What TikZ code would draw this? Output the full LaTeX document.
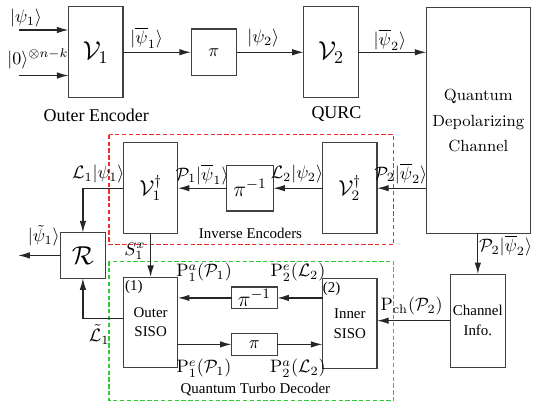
\documentclass[tikz,border=0pt]{standalone}
\usepackage{amsmath,amssymb}
\usepackage{fontspec}
\newfontfamily\tmsfont{Liberation Serif}
\usetikzlibrary{arrows.meta}
\definecolor{framered}{RGB}{238,45,45}
\definecolor{framegreen}{RGB}{45,205,45}

\begin{document}
\begin{tikzpicture}[
  x=0.55pt,y=-0.55pt,
  >={Latex[length=6.5pt,width=3.6pt]},
  blk/.style 2 args={draw=black!75,line width=.7pt,inner sep=0pt,outer sep=0pt,
    minimum width=#1*0.55pt,minimum height=#2*0.55pt},
  flow/.style={->,black!85,line width=.7pt},
  bigcap/.style={font=\tmsfont\fontsize{10}{12}\selectfont},
  smallcap/.style={font=\tmsfont\fontsize{8.3}{11}\selectfont,align=center},
  frame/.style={line width=.7pt,dash pattern=on 2.4pt off 1.4pt}
]
% Bounding box.
\draw[white] (0,0) rectangle (538,409);

% Dashed frames round the inverse encoders and the turbo decoder.
\draw[frame,framered] (110,136) rectangle (398,247);
\draw[frame,framegreen] (110,264) rectangle (398,405);

% Encoder chain and channel.
\node[blk={55}{92}] (enc1) at (96.5,52.5) {\Large$\mathcal{V}_1$};
\node[blk={46}{47}] (perm) at (216,52.5) {$\pi$};
\node[blk={55}{92}] (enc2) at (334.5,52.5) {\Large$\mathcal{V}_2$};
\node[blk={105}{229},align=center,font=\fontsize{9}{14.3}\selectfont] (chan) at (483.5,121.5)
  {Quantum\\Depolarizing\\Channel};
\coordinate (inone) at (19,30);
\coordinate (intwo) at (19,76);
\draw[flow] (inone) -- (inone -| enc1.west);
\draw[flow] (intwo) -- (intwo -| enc1.west);
\draw[flow] (enc1.east) -- (perm.west);
\draw[flow] (perm.east) -- (enc2.west);
\draw[flow] (enc2.east) -- (enc2.east -| chan.west);
\node (kone) at (26,18) {$|\psi_1\rangle$};
\node (kzero) at (38,59) {$|0\rangle^{\otimes n-k}$};
\node (kbarone) at (148,38) {$|\overline{\psi}_1\rangle$};
\node (ktwo) at (266,38) {$|\psi_2\rangle$};
\node (kbartwo) at (394,40) {$|\overline{\psi}_2\rangle$};
\node[bigcap] (tenc) at (97,116) {Outer Encoder};
\node[bigcap] (tqurc) at (340,115) {QURC};

% Inverse encoders and recovery.
\node[blk={55}{92}] (inv1) at (152,190) {\large$\mathcal{V}_1^\dagger$};
\node[blk={47}{46}] (iperm) at (252.5,190) {\large$\pi^{-1}$};
\node[blk={55}{92}] (inv2) at (353.5,190) {\large$\mathcal{V}_2^\dagger$};
\node[blk={45}{46}] (rec) at (83.5,258) {\Large$\mathcal{R}$};
\coordinate (recout) at (18,258);
\draw[flow] (inv2.east -| chan.west) -- (inv2.east);
\draw[flow] (inv2.west) -- (iperm.east);
\draw[flow] (iperm.west) -- (inv1.east);
\draw[flow] (inv1.west) -| (rec.north);
\draw[flow] (rec.west) -- (recout);
\node (kchout) at (405,175) {$\mathcal{P}_2|\overline{\psi}_2\rangle$};
\node (kltwo) at (300,176) {$\mathcal{L}_2|\psi_2\rangle$};
\node (kpone) at (204,176) {$\mathcal{P}_1|\overline{\psi}_1\rangle$};
\node (klone) at (99,176) {$\mathcal{L}_1|\psi_1\rangle$};
\node (kout) at (44,238) {$|\tilde{\psi}_1\rangle$};
\node[smallcap] (tinv) at (253,236) {Inverse Encoders};

% Turbo decoder.
\node[blk={55}{91},smallcap] (outer) at (152,325.5) {Outer\\SISO};
\node[blk={55}{91},smallcap] (inner) at (353.5,327) {Inner\\SISO};
\node[blk={46}{22}] (dinv) at (257,301) {\large$\pi^{-1}$};
\node[blk={46}{22}] (dperm) at (257,348) {$\pi$};
\node[blk={56}{94},smallcap] (info) at (483,324) {Channel\\Info.};
\draw[flow] (inv1.south) -- (outer.north);
\draw[flow] ([yshift=1.9pt]outer.west) -| (rec.south);
\draw[flow] (dinv.east -| inner.west) -- (dinv.east);
\draw[flow] (dinv.west) -- (dinv.west -| outer.east);
\draw[flow] (outer.east |- dperm.west) -- (dperm.west);
\draw[flow] (dperm.east) -- (dperm.east -| inner.west);
\draw[flow] (chan.south -| info.north) -- (info.north);
\draw[flow] (info.west) -- (info.west -| inner.east);
\node (ksx) at (136,254) {$S_1^x$};
\node (kltilde) at (100,338) {$\tilde{\mathcal{L}}_1$};
\node (kpa) at (206,275) {$\mathrm{P}_1^a(\mathcal{P}_1)$};
\node (kpe) at (206,372) {$\mathrm{P}_1^e(\mathcal{P}_1)$};
\node (kle) at (301,275) {$\mathrm{P}_2^e(\mathcal{L}_2)$};
\node (kla) at (301,372) {$\mathrm{P}_2^a(\mathcal{L}_2)$};
\node (kch) at (511,248) {$\mathcal{P}_2|\overline{\psi}_2\rangle$};
\node (kpch) at (416,309) {$\mathrm{P}_{\mathrm{ch}}(\mathcal{P}_2)$};
\node[smallcap] (tone) at (135,290) {(1)};
\node[smallcap] (ttwo) at (335,292) {(2)};
\node[smallcap] (tdec) at (258,394) {Quantum Turbo Decoder};
\end{tikzpicture}
\end{document}
